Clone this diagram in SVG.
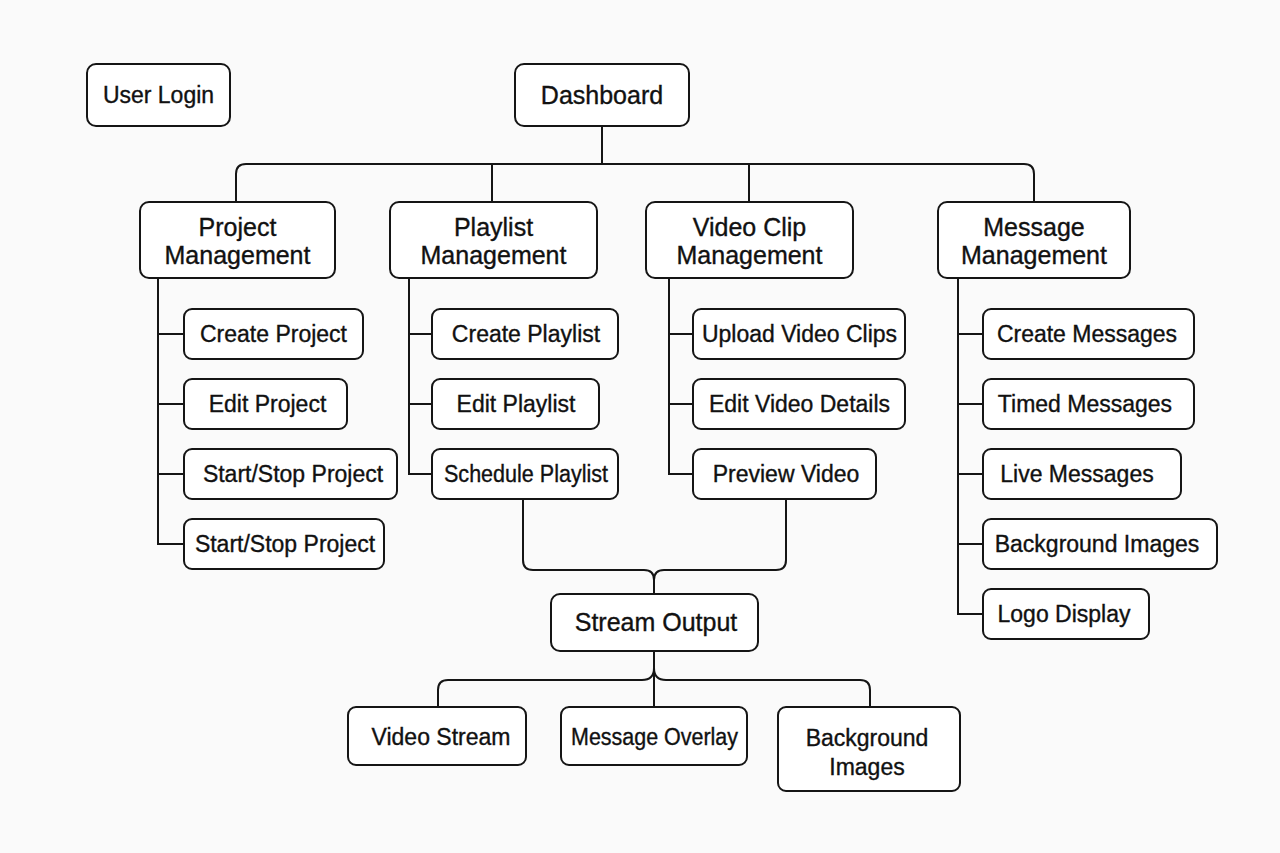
<svg xmlns="http://www.w3.org/2000/svg" width="1280" height="853" viewBox="0 0 1280 853">
<style>
.box{fill:#ffffff;stroke:#151515;stroke-width:2}
.ln{fill:none;stroke:#151515;stroke-width:2}
text{font-family:"Liberation Sans",Arial,sans-serif;fill:#111;stroke:#111;stroke-width:0.35;text-anchor:middle}
.h{font-size:25px}
.s{font-size:23px}
</style>
<rect width="1280" height="853" fill="#fafafa"/>
<g id="connectors">
<path class="ln" d="M602,126 V164"/>
<path class="ln" d="M236,202 V174 Q236,164 246,164 H1024 Q1034,164 1034,174 V202"/>
<path class="ln" d="M492,164 V202 M749,164 V202"/>
<path class="ln" d="M158,278 V544 H184 M158,334 H184 M158,404 H184 M158,474 H184"/>
<path class="ln" d="M409,278 V474 H432 M409,334 H432 M409,404 H432"/>
<path class="ln" d="M669,278 V474 H693 M669,334 H693 M669,404 H693"/>
<path class="ln" d="M958,278 V614 H983 M958,334 H983 M958,404 H983 M958,474 H983 M958,544 H983"/>
<path class="ln" d="M523,499 V560 Q523,570 533,570 H644 Q654,570 654,580 V594"/>
<path class="ln" d="M786,499 V560 Q786,570 776,570 H664 Q654,570 654,580"/>
<path class="ln" d="M654,651 V707"/>
<path class="ln" d="M654,668 Q654,680 642,680 H448 Q438,680 438,690 V707"/>
<path class="ln" d="M654,668 Q654,680 666,680 H860 Q870,680 870,690 V707"/>
</g>
<g id="user-login"><rect class="box" x="87" y="64" width="143" height="62" rx="9"/><text class="s" x="158.5" y="103">User Login</text></g>
<g id="dashboard"><rect class="box" x="515" y="64" width="174" height="62" rx="9"/><text class="h" x="602" y="104">Dashboard</text></g>
<g id="project-management"><rect class="box" x="140" y="202" width="195" height="76" rx="9"/><text class="h" x="237.5" y="236">Project</text><text class="h" x="237.5" y="264">Management</text></g>
<g id="playlist-management"><rect class="box" x="390" y="202" width="207" height="76" rx="9"/><text class="h" x="493.5" y="236">Playlist</text><text class="h" x="493.5" y="264">Management</text></g>
<g id="video-clip-management"><rect class="box" x="646" y="202" width="207" height="76" rx="9"/><text class="h" x="749.5" y="236">Video Clip</text><text class="h" x="749.5" y="264">Management</text></g>
<g id="message-management"><rect class="box" x="938" y="202" width="192" height="76" rx="9"/><text class="h" x="1034" y="236">Message</text><text class="h" x="1034" y="264">Management</text></g>
<g id="create-project"><rect class="box" x="184" y="309" width="179" height="50" rx="8"/><text class="s" x="273.5" y="342">Create Project</text></g>
<g id="edit-project"><rect class="box" x="184" y="379" width="163" height="50" rx="8"/><text class="s" x="267.5" y="412">Edit Project</text></g>
<g id="start-stop-project-1"><rect class="box" x="184" y="449" width="213" height="50" rx="8"/><text class="s" x="293" y="482">Start/Stop Project</text></g>
<g id="start-stop-project-2"><rect class="box" x="184" y="519" width="200" height="50" rx="8"/><text class="s" x="285" y="552">Start/Stop Project</text></g>
<g id="create-playlist"><rect class="box" x="432" y="309" width="186" height="50" rx="8"/><text class="s" x="526" y="342">Create Playlist</text></g>
<g id="edit-playlist"><rect class="box" x="432" y="379" width="167" height="50" rx="8"/><text class="s" x="516" y="412">Edit Playlist</text></g>
<g id="schedule-playlist"><rect class="box" x="432" y="449" width="186" height="50" rx="8"/><text class="s" x="526" y="482" textLength="164" lengthAdjust="spacingAndGlyphs">Schedule Playlist</text></g>
<g id="upload-video-clips"><rect class="box" x="693" y="309" width="212" height="50" rx="8"/><text class="s" x="799.5" y="342">Upload Video Clips</text></g>
<g id="edit-video-details"><rect class="box" x="693" y="379" width="212" height="50" rx="8"/><text class="s" x="799.5" y="412">Edit Video Details</text></g>
<g id="preview-video"><rect class="box" x="693" y="449" width="183" height="50" rx="8"/><text class="s" x="786" y="482">Preview Video</text></g>
<g id="create-messages"><rect class="box" x="983" y="309" width="211" height="50" rx="8"/><text class="s" x="1087" y="342">Create Messages</text></g>
<g id="timed-messages"><rect class="box" x="983" y="379" width="211" height="50" rx="8"/><text class="s" x="1085" y="412">Timed Messages</text></g>
<g id="live-messages"><rect class="box" x="983" y="449" width="198" height="50" rx="8"/><text class="s" x="1077" y="482">Live Messages</text></g>
<g id="background-images-msg"><rect class="box" x="983" y="519" width="234" height="50" rx="8"/><text class="s" x="1097" y="552">Background Images</text></g>
<g id="logo-display"><rect class="box" x="983" y="589" width="166" height="50" rx="8"/><text class="s" x="1064" y="622">Logo Display</text></g>
<g id="stream-output"><rect class="box" x="551" y="594" width="207" height="57" rx="9"/><text class="h" x="656" y="631">Stream Output</text></g>
<g id="video-stream"><rect class="box" x="348" y="707" width="178" height="58" rx="8"/><text class="s" x="441" y="745">Video Stream</text></g>
<g id="message-overlay"><rect class="box" x="561" y="707" width="186" height="58" rx="8"/><text class="s" x="654.5" y="745" textLength="167" lengthAdjust="spacingAndGlyphs">Message Overlay</text></g>
<g id="background-images-out"><rect class="box" x="778" y="707" width="182" height="84" rx="8"/><text class="s" x="867" y="746">Background</text><text class="s" x="867" y="775">Images</text></g>
</svg>
